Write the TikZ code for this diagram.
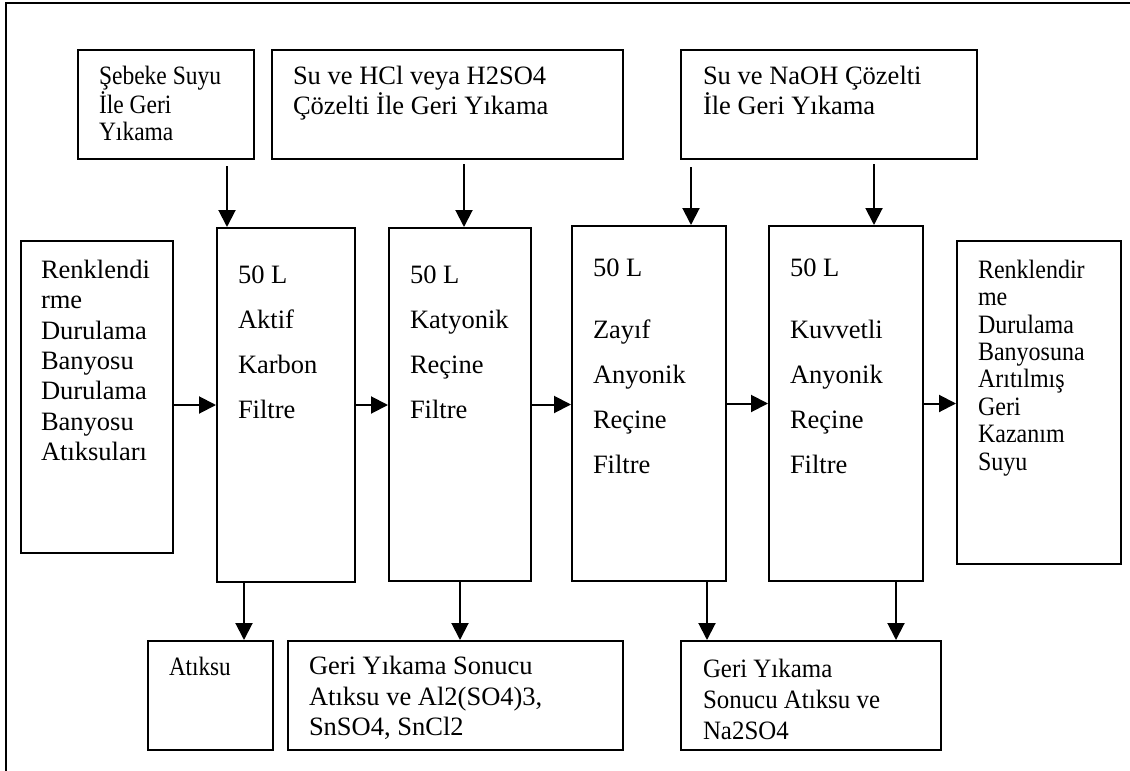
\documentclass[tikz,border=0pt]{standalone}
\usepackage{fontspec}
\setmainfont{Liberation Serif}
\usetikzlibrary{arrows.meta}

\begin{document}
\begin{tikzpicture}[x=0.5pt, y=-0.5pt, ->, >={Triangle[length=8.5pt, width=8.5pt]}, line width=1pt,
  box/.style={rectangle, draw, anchor=north west, inner sep=0pt},
  sz/.style 2 args={minimum width=#1*0.5pt, minimum height=#2*0.5pt},
  txt/.style={anchor=north west, align=left, inner sep=0pt, font=\fontsize{13.25}{#1}\selectfont},
  txt/.default=13.6,
  narrow/.style 2 args={font=\fontsize{13.25}{#2}\selectfont\addfontfeature{FakeStretch=#1}}]

  \useasboundingbox (0,0) rectangle (1130,771);
  \draw[-] (6,771) -- (6,3) -- (1130,3);

  % wash water inputs
  \node[box, sz={176}{109}, label={[txt, narrow={0.887}{13.35}, shift={(21,16)}]north west:{Şebeke Suyu\\İle Geri\\Yıkama}}] (sebeke) at (77,49) {};
  \node[box, sz={351}{109}, label={[txt=15, shift={(21,16)}]north west:{Su ve HCl veya H2SO4\\Çözelti İle Geri Yıkama}}] (hcl) at (271,49) {};
  \node[box, sz={296}{109}, label={[txt=15, shift={(22,16)}]north west:{Su ve NaOH Çözelti\\İle Geri Yıkama}}] (naoh) at (680,49) {};

  % main line
  \node[box, sz={152}{312}, label={[txt=15.2, shift={(20,19)}]north west:{Renklendi\\rme\\Durulama\\Banyosu\\Durulama\\Banyosu\\Atıksuları}}] (giris) at (20,240) {};
  \node[box, sz={138}{354}, label={[txt=22.5, shift={(21,38)}]north west:{50 L\\Aktif\\Karbon\\Filtre}}] (f1) at (216,227) {};
  \node[box, sz={142}{353}, label={[txt=22.5, shift={(21,38)}]north west:{50 L\\Katyonik\\Reçine\\Filtre}}] (f2) at (388,227) {};
  \node[box, sz={154}{355}, label={[txt=22.5, shift={(21,33)}]north west:{50 L\\[8.5pt]Zayıf\\Anyonik\\Reçine\\Filtre}}] (f3) at (571,225) {};
  \node[box, sz={154}{355}, label={[txt=22.5, shift={(21,33)}]north west:{50 L\\[8.5pt]Kuvvetli\\Anyonik\\Reçine\\Filtre}}] (f4) at (768,225) {};
  \node[box, sz={164}{323}, label={[txt, narrow={0.906}{13.7}, shift={(21,19)}]north west:{Renklendir\\me\\Durulama\\Banyosuna\\Arıtılmış\\Geri\\Kazanım\\Suyu}}] (cikis) at (956,240) {};

  % back wash outputs
  \node[box, sz={125}{109}, label={[txt, narrow={0.875}{13.6}, shift={(21,16)}]north west:{Atıksu}}] (atik) at (147,640) {};
  \node[box, sz={335}{109}, label={[txt=15.4, shift={(21,15)}]north west:{Geri Yıkama Sonucu\\Atıksu ve Al2(SO4)3,\\SnSO4, SnCl2}}] (y1) at (287,640) {};
  \node[box, sz={260}{109}, label={[txt, narrow={0.94}{15.5}, shift={(22,18)}]north west:{Geri Yıkama\\Sonucu Atıksu ve\\Na2SO4}}] (y2) at (680,640) {};

  \path
    ([xshift=30.5pt, yshift=-3pt]sebeke.south) edge ([xshift=30.5pt]sebeke.south |- f1.north)
    ([xshift=8.25pt, yshift=-2pt]hcl.south) edge ([xshift=8.25pt]hcl.south |- f2.north)
    ([xshift=-69pt, yshift=-3.5pt]naoh.south) edge ([xshift=-69pt]naoh.south |- f3.north)
    ([xshift=22.5pt, yshift=-2pt]naoh.south) edge ([xshift=22.5pt]naoh.south |- f4.north)
    (giris.east |- f1.west) edge (f1.west)
    (f1.east) edge (f1.east -| f2.west)
    (f2.east) edge (f2.east -| f3.west)
    (f3.east) edge (f3.east -| f4.west)
    (f4.east) edge (f4.east -| cikis.west)
    ([xshift=-21pt]f1.south) edge ([xshift=-21pt]f1.south |- atik.north)
    (f2.south) edge (f2.south |- y1.north)
    ([xshift=29pt]f3.south) edge ([xshift=29pt]f3.south |- y2.north)
    ([xshift=25pt]f4.south) edge ([xshift=25pt]f4.south |- y2.north)
  ;
\end{tikzpicture}
\end{document}
